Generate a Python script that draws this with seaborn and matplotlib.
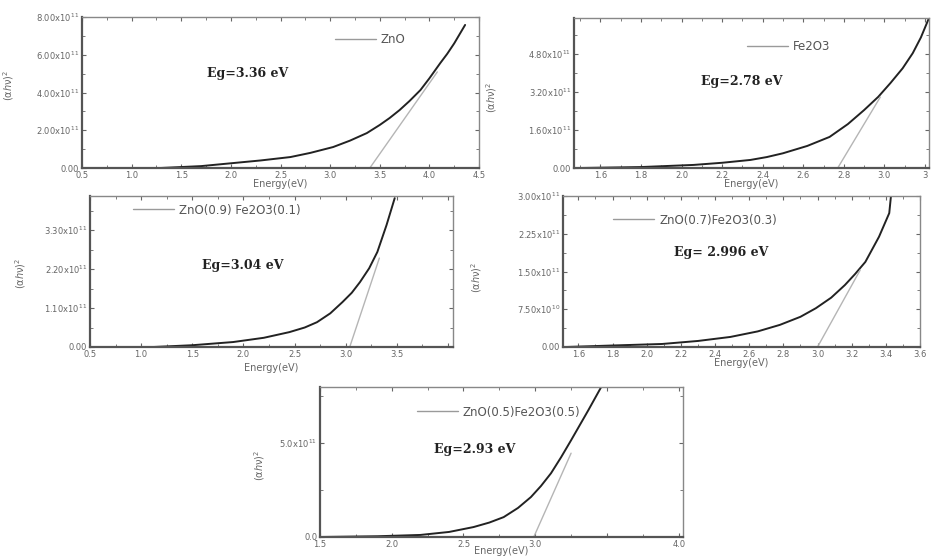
import numpy as np
import pandas as pd
import matplotlib.pyplot as plt
from matplotlib.lines import Line2D
from matplotlib.ticker import AutoMinorLocator
import seaborn as sns

sns.set_style("ticks")
plt.rcParams['font.family'] = ['DejaVu Sans']

W, H = 931, 557

# --- data (energy in eV, (ahv)^2 in units of 1e11) ---
zno_e = [1.29, 1.70, 2.02, 2.30, 2.60, 2.80, 3.03, 3.20, 3.37, 3.50, 3.60, 3.70,
         3.80, 3.91, 4.00, 4.11, 4.18, 4.25, 4.36]
zno_a = [0.0, 0.10, 0.26, 0.40, 0.58, 0.80, 1.11, 1.45, 1.85, 2.28, 2.65, 3.07,
         3.55, 4.13, 4.75, 5.56, 6.05, 6.60, 7.58]
zno_tan_e = [3.40, 4.08]
zno_tan_a = [0.0, 5.09]

fe_e = [1.50, 1.80, 2.06, 2.20, 2.34, 2.42, 2.50, 2.62, 2.73, 2.82, 2.90, 2.97,
        3.03, 3.09, 3.14, 3.18, 3.22]
fe_a = [0.0, 0.04, 0.13, 0.22, 0.34, 0.46, 0.62, 0.93, 1.31, 1.85, 2.44, 3.00,
        3.58, 4.20, 4.84, 5.50, 6.32]
fe_tan_e = [2.77, 2.98]
fe_tan_a = [0.0, 2.99]

z9_e = [1.12, 1.50, 1.90, 2.20, 2.45, 2.60, 2.72, 2.85, 2.97, 3.06, 3.14, 3.23,
        3.31, 3.40, 3.48]
z9_a = [0.0, 0.05, 0.14, 0.26, 0.42, 0.55, 0.70, 0.95, 1.27, 1.53, 1.83, 2.22,
        2.68, 3.44, 4.20]
z9_tan_e = [3.04, 3.33]
z9_tan_a = [0.0, 2.51]

z7_e = [1.53, 1.80, 2.09, 2.30, 2.49, 2.65, 2.78, 2.90, 2.99, 3.08, 3.16, 3.22,
        3.28, 3.36, 3.42, 3.43]
z7_a = [0.0, 0.03, 0.06, 0.12, 0.20, 0.31, 0.44, 0.60, 0.77, 0.98, 1.23, 1.45,
        1.69, 2.19, 2.66, 3.00]
z7_tan_e = [3.00, 3.25]
z7_tan_a = [0.0, 1.53]

z5_e = [1.50, 1.90, 2.20, 2.40, 2.57, 2.68, 2.78, 2.88, 2.97, 3.04, 3.11, 3.18,
        3.25, 3.37, 3.46]
z5_a = [0.0, 0.04, 0.11, 0.27, 0.53, 0.77, 1.06, 1.55, 2.13, 2.72, 3.40, 4.25,
        5.16, 6.76, 8.00]
z5_tan_e = [2.99, 3.25]
z5_tan_a = [0.0, 4.47]

names = ["ZnO", "Fe2O3", "ZnO(0.9) Fe2O3(0.1)", "ZnO(0.7)Fe2O3(0.3)", "ZnO(0.5)Fe2O3(0.5)"]
eg_labels = ["Eg=3.36 eV", "Eg=2.78 eV", "Eg=3.04 eV", "Eg= 2.996 eV", "Eg=2.93 eV"]

x10 = r"x10$^{11}$"
panels = [
    dict(box=(82, 17, 479, 168), e=zno_e, a=zno_a, te=zno_tan_e, ta=zno_tan_a,
         xlim=(0.5, 4.5), ylim=(0, 8.0),
         xt=[0.5, 1.0, 1.5, 2.0, 2.5, 3.0, 3.5, 4.0, 4.5],
         xtl=["0.5", "1.0", "1.5", "2.0", "2.5", "3.0", "3.5", "4.0", "4.5"],
         yt=[0, 2, 4, 6, 8], ytl=["0.00", "2.00" + x10, "4.00" + x10, "6.00" + x10, "8.00" + x10],
         leg=(0.637, 0.848), eg=(0.416, 0.629), ylab=(-0.165, 0.55), xlab=-0.07),
    dict(box=(574, 18, 929, 168), e=fe_e, a=fe_a, te=fe_tan_e, ta=fe_tan_a,
         xlim=(1.47, 3.22), ylim=(0, 6.32),
         xt=[1.6, 1.8, 2.0, 2.2, 2.4, 2.6, 2.8, 3.0, 3.2],
         xtl=["1.6", "1.8", "2.0", "2.2", "2.4", "2.6", "2.8", "3.0", "3"],
         yt=[0, 1.6, 3.2, 4.8], ytl=["0.00", "1.60" + x10, "3.20" + x10, "4.80" + x10],
         leg=(0.487, 0.807), eg=(0.473, 0.58), ylab=(-0.21, 0.47), xlab=-0.07),
    dict(box=(90, 196, 453, 347), e=z9_e, a=z9_a, te=z9_tan_e, ta=z9_tan_a,
         xlim=(0.5, 4.05), ylim=(0, 4.26),
         xt=[0.5, 1.0, 1.5, 2.0, 2.5, 3.0, 3.5, 4.0],
         xtl=["0.5", "1.0", "1.5", "2.0", "2.5", "3.0", "3.5", ""],
         yt=[0, 1.1, 2.2, 3.3], ytl=["0.00", "1.10" + x10, "2.20" + x10, "3.30" + x10],
         leg=(0.118, 0.907), eg=(0.421, 0.543), ylab=(-0.17, 0.49), xlab=-0.106),
    dict(box=(563, 196, 920, 347), e=z7_e, a=z7_a, te=z7_tan_e, ta=z7_tan_a,
         xlim=(1.51, 3.6), ylim=(0, 3.0),
         xt=[1.6, 1.8, 2.0, 2.2, 2.4, 2.6, 2.8, 3.0, 3.2, 3.4, 3.6],
         xtl=["1.6", "1.8", "2.0", "2.2", "2.4", "2.6", "2.8", "3.0", "3.2", "3.4", "3.6"],
         yt=[0, 0.75, 1.5, 2.25, 3.0],
         ytl=["0.00", r"7.50x10$^{10}$", "1.50" + x10, "2.25" + x10, "3.00" + x10],
         leg=(0.14, 0.841), eg=(0.443, 0.629), ylab=(-0.22, 0.46), xlab=-0.073),
    dict(box=(320, 387, 683, 537), e=z5_e, a=z5_a, te=z5_tan_e, ta=z5_tan_a,
         xlim=(1.5, 4.03), ylim=(0, 8.0),
         xt=[1.5, 2.0, 2.5, 3.0, 3.5, 4.0],
         xtl=["1.5", "2.0", "2.5", "3.0", "", "4.0"],
         yt=[0, 5.0], ytl=["0.0", "5.0" + x10],
         leg=(0.267, 0.833), eg=(0.427, 0.58), ylab=(-0.145, 0.48), xlab=-0.06),
]

fig = plt.figure(figsize=(W / 100, H / 100), dpi=100)

for p, name, eg in zip(panels, names, eg_labels):
    x0, y0, x1, y1 = p["box"]
    ax = fig.add_axes([x0 / W, 1 - y1 / H, (x1 - x0) / W, (y1 - y0) / H])

    curve = pd.DataFrame({"Energy": p["e"], "ahv2": p["a"]})
    tangent = pd.DataFrame({"Energy": p["te"], "ahv2": p["ta"]})
    sns.lineplot(data=curve, x="Energy", y="ahv2", ax=ax, color="#222222", lw=1.4)
    sns.lineplot(data=tangent, x="Energy", y="ahv2", ax=ax, color="#b5b5b5", lw=1.0)

    ax.set_xlim(*p["xlim"])
    ax.set_ylim(*p["ylim"])
    ax.set_xticks(p["xt"])
    ax.set_xticklabels(p["xtl"])
    ax.set_yticks(p["yt"])
    ax.set_yticklabels(p["ytl"])
    ax.xaxis.set_minor_locator(AutoMinorLocator(2))
    ax.yaxis.set_minor_locator(AutoMinorLocator(2))
    ax.tick_params(which="both", direction="in", top=True, right=True,
                   colors="#666666", labelcolor="#666666", labelsize=6, pad=2)
    ax.tick_params(which="major", length=3)
    ax.tick_params(which="minor", length=2)

    for side in ["left", "bottom"]:
        ax.spines[side].set_linewidth(1.6)
        ax.spines[side].set_color("#555555")
    for side in ["top", "right"]:
        ax.spines[side].set_linewidth(1.0)
        ax.spines[side].set_color("#888888")

    ax.set_xlabel("Energy(eV)", fontsize=7, color="#666666")
    ax.xaxis.set_label_coords(0.5, p["xlab"])
    ax.set_ylabel(r"(α$h$ν)$^2$", fontsize=7, color="#666666")
    ax.yaxis.set_label_coords(*p["ylab"])

    handle = Line2D([], [], color="#9a9a9a", lw=1.0)
    ax.legend([handle], [name], loc="center left", bbox_to_anchor=p["leg"],
              frameon=False, fontsize=8.5, handlelength=3.5, handletextpad=0.4,
              borderpad=0, borderaxespad=0, labelcolor="#555555")

    ax.text(p["eg"][0], p["eg"][1], eg, transform=ax.transAxes, ha="center", va="center",
            fontsize=9, fontweight="bold", family="DejaVu Serif", color="#222222")

fig.savefig("out.png", dpi=100, facecolor="white")
